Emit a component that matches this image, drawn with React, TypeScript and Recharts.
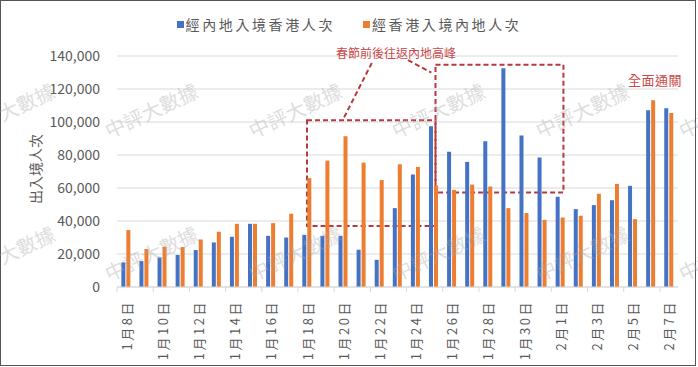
import React from 'react';
import { BarChart, Bar, XAxis, YAxis, CartesianGrid, ReferenceArea, ReferenceLine } from 'recharts';

const dates = [
  '1月8日', '1月9日', '1月10日', '1月11日', '1月12日', '1月13日', '1月14日', '1月15日',
  '1月16日', '1月17日', '1月18日', '1月19日', '1月20日', '1月21日', '1月22日', '1月23日',
  '1月24日', '1月25日', '1月26日', '1月27日', '1月28日', '1月29日', '1月30日', '1月31日',
  '2月1日', '2月2日', '2月3日', '2月4日', '2月5日', '2月6日', '2月7日',
];

// 經內地入境香港人次
const viaMainlandIntoHK = [
  14900, 15700, 17900, 19400, 22400, 27000, 30400, 38300,
  31000, 30000, 31600, 31000, 31000, 22600, 16500, 47800,
  68200, 97500, 81900, 75800, 88400, 132600, 91800, 78500,
  54700, 47200, 49600, 52600, 61300, 107100, 108300,
];

// 經香港入境內地人次
const viaHKIntoMainland = [
  34500, 23000, 24400, 24200, 28800, 33500, 38300, 38300,
  38700, 44400, 66000, 76600, 91400, 75400, 64800, 74400,
  72800, 61500, 58900, 62100, 60900, 47800, 44800, 40700,
  42100, 43200, 56500, 62500, 41100, 113200, 105500,
];

const yTicks = [0, 20000, 40000, 60000, 80000, 100000, 120000, 140000];

const seriesNames = ['經內地入境香港人次', '經香港入境內地人次'];

// annotation boxes in data space (index axis, value axis)
const peakBoxBefore = { x1: 10, x2: 17.1, y1: 37000, y2: 101000 };
const peakBoxAfter = { x1: 17.1, x2: 24.17, y1: 57300, y2: 134700 };
const calloutLine1 = [{ x: 13.58, y: 135800 }, { x: 11.98, y: 101300 }];
const calloutLine2 = [{ x: 15.58, y: 137500 }, { x: 16.87, y: 129900 }];

const watermarkXs = [8, 151, 295, 438, 582, 725];
const watermarkYs = [110, 253];

const data = dates.map((d, i) => ({
  date: d,
  idx: i,
  hk: viaMainlandIntoHK[i],
  ml: viaHKIntoMainland[i],
}));

const FONT = '"Noto Sans CJK TC", "Noto Sans", sans-serif';
const BLUE = '#4472C4';
const ORANGE = '#ED7D31';
const TEXT = '#595959';
const GRID = '#d9d9d9';
const ANNO = '#B8393B';
const ANNO_TEXT = '#C9484A';

const XTick = (props: any) => {
  const { x, y, payload, width } = props;
  const band = (width || 561) / dates.length;
  const bx = x - band / 2;
  const ty = y + 13;
  return (
    <g>
      <line x1={bx} y1={y} x2={bx} y2={y + 5} stroke={GRID} />
      <text
        x={x}
        y={ty}
        transform={`rotate(-90 ${x} ${ty})`}
        textAnchor="end"
        dominantBaseline="central"
        fill={TEXT}
        fontSize={13}
        letterSpacing={2.5}
        fontFamily={FONT}
      >
        {payload.value}
      </text>
    </g>
  );
};

const dashed = { stroke: ANNO, strokeWidth: 2, strokeDasharray: '5 3' };

export default function App() {
  return (
    <div style={{ position: 'fixed', left: 0, top: 0, width: 698, height: 367, background: '#fff', fontFamily: FONT }}>
      <div
        style={{
          position: 'absolute', left: 0, top: 0, width: 696, height: 366,
          border: '1px solid #555', boxSizing: 'border-box',
        }}
      />
      <div
        style={{
          position: 'absolute', top: 16, left: 0, width: 698, display: 'flex',
          justifyContent: 'center', alignItems: 'center', fontSize: 14, lineHeight: '16px',
          color: TEXT, letterSpacing: 2.6,
        }}
      >
        <span style={{ display: 'inline-block', width: 7, height: 7, background: BLUE, marginRight: 2 }} />
        <span>{seriesNames[0]}</span>
        <span style={{ display: 'inline-block', width: 7, height: 7, background: ORANGE, marginLeft: 28, marginRight: 2 }} />
        <span>{seriesNames[1]}</span>
      </div>
      <div style={{ position: 'absolute', left: 0, top: 0 }}>
        <BarChart
          width={698}
          height={367}
          data={data}
          margin={{ top: 56, right: 20, bottom: 0, left: 0 }}
          barCategoryGap="24%"
          barGap={1}
        >
          <CartesianGrid vertical={false} stroke={GRID} />
          <XAxis
            dataKey="date"
            interval={1}
            height={80}
            tickSize={0}
            tickMargin={0}
            tickLine={false}
            axisLine={{ stroke: GRID }}
            tick={<XTick />}
          />
          <XAxis xAxisId="n" type="number" dataKey="idx" domain={[-0.5, 30.5]} hide allowDataOverflow />
          <YAxis
            width={117}
            domain={[0, 140000]}
            ticks={yTicks}
            tickFormatter={(v: number) => v.toLocaleString('en-US')}
            axisLine={false}
            tickLine={false}
            tickSize={0}
            tickMargin={17}
            tick={{ fill: TEXT, fontSize: 14, fontFamily: FONT }}
            label={{
              content: () => (
                <text
                  x={35}
                  y={169}
                  transform="rotate(-90 35 169)"
                  textAnchor="middle"
                  dominantBaseline="central"
                  fill={TEXT}
                  fontSize={14}
                  fontFamily={FONT}
                >
                  出入境人次
                </text>
              ),
            }}
          />
          <Bar dataKey="hk" name={seriesNames[0]} fill={BLUE} isAnimationActive={false} />
          <Bar dataKey="ml" name={seriesNames[1]} fill={ORANGE} isAnimationActive={false} />
          <ReferenceArea
            xAxisId="n"
            x1={peakBoxBefore.x1}
            x2={peakBoxBefore.x2}
            y1={peakBoxBefore.y1}
            y2={peakBoxBefore.y2}
            fill="none"
            fillOpacity={0}
            ifOverflow="visible"
            {...dashed}
          />
          <ReferenceArea
            xAxisId="n"
            x1={peakBoxAfter.x1}
            x2={peakBoxAfter.x2}
            y1={peakBoxAfter.y1}
            y2={peakBoxAfter.y2}
            fill="none"
            fillOpacity={0}
            ifOverflow="visible"
            {...dashed}
          />
          <ReferenceLine xAxisId="n" segment={calloutLine1} ifOverflow="visible" {...dashed} />
          <ReferenceLine xAxisId="n" segment={calloutLine2} ifOverflow="visible" {...dashed} />
        </BarChart>
      </div>
      <svg width={698} height={367} style={{ position: 'absolute', left: 0, top: 0, pointerEvents: 'none' }}>
        <text x={396} y={52} textAnchor="middle" dominantBaseline="central" fill={ANNO_TEXT} fontSize={12} fontFamily={FONT}>
          春節前後往返內地高峰
        </text>
        <text x={655} y={79} textAnchor="middle" dominantBaseline="central" fill={ANNO_TEXT} fontSize={13} fontFamily={FONT} letterSpacing={0.5}>
          全面通關
        </text>
        {watermarkYs.map((wy) =>
          watermarkXs.map((wx) => (
            <text
              key={`${wx}-${wy}`}
              x={wx}
              y={wy}
              transform={`rotate(-25 ${wx} ${wy})`}
              textAnchor="middle"
              dominantBaseline="central"
              fill="#a8a8a8"
              fillOpacity={0.4}
              fontSize={20}
              fontFamily={FONT}
            >
              中評大數據
            </text>
          ))
        )}
      </svg>
    </div>
  );
}
